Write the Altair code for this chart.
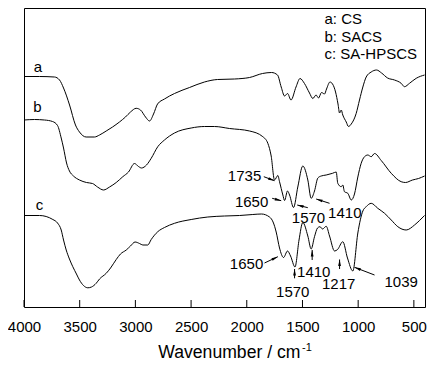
import math
import altair as alt
import pandas as pd

# ---- spectra (wavenumber, relative transmittance; larger = lower on chart)
wn_a = [4000, 3861, 3726, 3681, 3645, 3591, 3538, 3502, 3442, 3367,
        3322, 3262, 3205, 3143, 3089, 3044, 2993, 2954, 2909, 2873,
        2837, 2801, 2739, 2649, 2514, 2380, 2263, 2110, 1975, 1859,
        1778, 1724, 1691, 1661, 1634, 1603, 1558, 1522, 1482, 1437,
        1407, 1378, 1356, 1329, 1302, 1284, 1253, 1230, 1203, 1181,
        1167, 1152, 1138, 1107, 1087, 1062, 1018, 988, 958, 928,
        883, 835, 790, 736, 674, 614, 584, 539, 479, 404]
t_a = [76.5, 76.5, 77, 80, 88, 105, 125, 132, 137, 137,
       135, 131, 127, 122, 117, 112, 108.3, 110, 117, 121,
       114, 104, 99, 93.5, 87.5, 82, 79.5, 79, 77.5, 73.5,
       72.5, 75, 87, 96, 93.5, 100, 87, 78.5, 83.5, 93,
       98.5, 95, 98, 92.5, 94, 89, 82, 84, 92, 104,
       113, 110, 115, 122, 126.5, 124, 113.5, 100, 87, 77,
       72, 70, 73, 78, 80, 83.3, 86.7, 83.3, 78.3, 75]

wn_b = [4000, 3906, 3816, 3744, 3699, 3666, 3645, 3618, 3592, 3556,
        3502, 3439, 3385, 3340, 3286, 3232, 3172, 3113, 3062, 3008,
        2972, 2945, 2900, 2858, 2799, 2739, 2649, 2499, 2379, 2290,
        2155, 1975, 1856, 1811, 1781, 1751, 1721, 1706, 1676, 1661,
        1634, 1616, 1580, 1542, 1497, 1452, 1422, 1392, 1362, 1332,
        1287, 1230, 1197, 1183, 1152, 1138, 1123, 1093, 1062, 1033,
        1003, 973, 943, 913, 883, 853, 793, 703, 614, 575,
        512, 458, 404]
t_b = [120, 119.5, 120, 121.5, 125.5, 138, 148, 163, 171, 176,
       180, 182.5, 183.5, 187, 190, 187, 182.5, 176.7, 172, 163.5,
       166.5, 168, 165, 158.3, 146.7, 140, 133, 128, 126.5, 126.5,
       128.5, 131, 136.7, 143.3, 156, 180, 175.5, 181.7, 195, 200.5,
       191, 195, 207.5, 187, 166, 180, 198.3, 191, 178, 176,
       175, 173.3, 172, 183.3, 186.7, 185, 191.7, 193.3, 200, 194,
       177, 163.3, 156.7, 155, 156.7, 153.5, 160.5, 173.3, 181.7, 182.5,
       180, 178.5, 176]

wn_c = [4000, 3861, 3741, 3699, 3666, 3645, 3621, 3592, 3562, 3529,
        3502, 3466, 3427, 3394, 3352, 3322, 3262, 3223, 3172, 3134,
        3082, 3044, 3003, 2963, 2933, 2889, 2858, 2799, 2739, 2649,
        2499, 2350, 2200, 2065, 1946, 1868, 1796, 1764, 1736, 1706,
        1670, 1634, 1607, 1567, 1531, 1497, 1452, 1422, 1392, 1365,
        1343, 1320, 1287, 1257, 1212, 1185, 1138, 1096, 1048, 1003,
        958, 928, 883, 824, 763, 703, 644, 569, 494, 449,
        404]
t_c = [215.5, 215.5, 219.5, 223, 230, 240, 250, 259, 266.7, 274,
       280, 285.5, 287.8, 287, 283.3, 279, 273.3, 268, 259.5, 254,
       250, 246, 242, 243.5, 245, 245, 239.5, 231.7, 227.5, 223.3,
       219.5, 217, 216, 215.5, 214.5, 214, 217, 222, 232, 248,
       257.5, 251, 256, 267, 240, 222.5, 236, 249, 236.7, 228,
       226.7, 229, 226.3, 236, 251, 249.5, 241.7, 258, 271, 233,
       211, 206.7, 203.3, 208.3, 213.3, 220, 226.7, 230, 225, 220.5,
       215.5]

tick_values = [4000, 3500, 3000, 2500, 2000, 1500, 1000, 500]

# series labels at curve starts
series_names = ["a", "b", "c"]
series_lab_wn = [3876, 3880, 3861]
series_lab_t = [71.7, 111.7, 210]

# legend text lines
legend_lines = ["a: CS", "b: SACS", "c: SA-HPSCS"]
legend_wn = [1302, 1302, 1302]
legend_t = [24, 41.7, 59.3]

# peak annotations: label, text position, arrow start, arrow end
ann_label = ["1735", "1650", "1570", "1410", "1650", "1570", "1410", "1217", "1039"]
ann_text_wn = [2020, 1957, 1446, 1120, 2002, 1587, 1399, 1175, 614]
ann_text_t = [176, 202, 218.3, 213.3, 264.3, 292.3, 271.5, 284.3, 281.7]
arr_wn1 = [1847, 1772, 1452, 1257, 1841, 1571, 1413, 1167, 853]
arr_t1 = [176.7, 198.3, 207.7, 203.3, 263, 278.3, 260, 269, 275]
arr_wn2 = [1751, 1691, 1547, 1377, 1721, 1571, 1413, 1167, 1033]
arr_t2 = [180.7, 200.7, 205, 199, 256.7, 269, 250, 259.5, 267.3]

W, H = 401, 299
X_DOM = [4000, 400]
Y_DOM = [307, 8]

rows = []
for name, wn, tv in [("a", wn_a, t_a), ("b", wn_b, t_b), ("c", wn_c, t_c)]:
    for i, (w, t) in enumerate(zip(wn, tv)):
        rows.append({"series": name, "wn": w, "t": t, "idx": i})
spectra = pd.DataFrame(rows)

FONT = "Liberation Sans"

x_enc = alt.X("wn:Q",
              scale=alt.Scale(domain=X_DOM, nice=False, zero=False),
              axis=alt.Axis(values=tick_values, title=None, grid=False, ticks=False,
                            tickSize=0, domain=False, labelFontSize=15, labelFont=FONT,
                            labelColor="black", labelPadding=12.5, labelFlush=False,
                            labelOverlap=False, format="d"))
y_enc = alt.Y("t:Q", scale=alt.Scale(domain=Y_DOM, nice=False, zero=False), axis=None)

lines = alt.Chart(spectra).mark_line(color="black", strokeWidth=1, interpolate="monotone").encode(
    x=x_enc, y=y_enc, detail="series:N", order="idx:Q")

ticks = alt.Chart(pd.DataFrame({"wn": tick_values})).mark_rule(color="black", strokeWidth=1).encode(
    x=x_enc, y=alt.value(H), y2=alt.value(H - 7))

slab = alt.Chart(pd.DataFrame({"wn": series_lab_wn, "t": series_lab_t, "lab": series_names})).mark_text(
    font=FONT, fontSize=15, color="black", align="center", baseline="alphabetic").encode(
    x=x_enc, y=y_enc, text="lab:N")

legend = alt.Chart(pd.DataFrame({"wn": legend_wn, "t": legend_t, "lab": legend_lines})).mark_text(
    font=FONT, fontSize=15, color="black", align="left", baseline="alphabetic").encode(
    x=x_enc, y=y_enc, text="lab:N")

ann = alt.Chart(pd.DataFrame({"wn": ann_text_wn, "t": ann_text_t, "lab": ann_label})).mark_text(
    font=FONT, fontSize=15, color="black", align="center", baseline="middle").encode(
    x=x_enc, y=y_enc, text="lab:N")

arrows_df = pd.DataFrame({"wn": arr_wn1, "t": arr_t1, "wn2": arr_wn2, "t2": arr_t2})
xs = W / (X_DOM[0] - X_DOM[1])
ys = H / (Y_DOM[0] - Y_DOM[1])
ang = []
for a1, b1, a2, b2 in zip(arr_wn1, arr_t1, arr_wn2, arr_t2):
    dx = -(a2 - a1) * xs
    dy = (b2 - b1) * ys
    ang.append(math.degrees(math.atan2(dx, -dy)) % 360)
heads_df = pd.DataFrame({"wn": arr_wn2, "t": arr_t2, "ang": ang})

arrow_lines = alt.Chart(arrows_df).mark_rule(color="black", strokeWidth=1).encode(
    x=x_enc, y=y_enc, x2="wn2:Q", y2="t2:Q")

heads = alt.Chart(heads_df).mark_point(
    shape="M0,0L-0.35,1.6L0.35,1.6Z", filled=True, color="black", opacity=1, size=64, strokeWidth=0).encode(
    x=x_enc, y=y_enc, angle=alt.Angle("ang:Q", scale=None))

title_main = alt.Chart(pd.DataFrame({"lab": ["Wavenumber / cm"]})).mark_text(
    font=FONT, fontSize=17.6, color="black", align="left", baseline="alphabetic").encode(
    x=alt.value(134.3), y=alt.value(350), text="lab:N")
title_sup = alt.Chart(pd.DataFrame({"lab": ["-1"]})).mark_text(
    font=FONT, fontSize=11, color="black", align="left", baseline="alphabetic").encode(
    x=alt.value(278), y=alt.value(342.5), text="lab:N")

chart = alt.layer(lines, ticks, slab, legend, ann, arrow_lines, heads, title_main, title_sup).properties(
    width=W, height=H, autosize="none",
    padding={"left": 16, "top": 0, "right": 10, "bottom": 55},
).configure_view(stroke="black", strokeWidth=1)

chart.save("out.html", embed_options={"renderer": "svg", "actions": False})
